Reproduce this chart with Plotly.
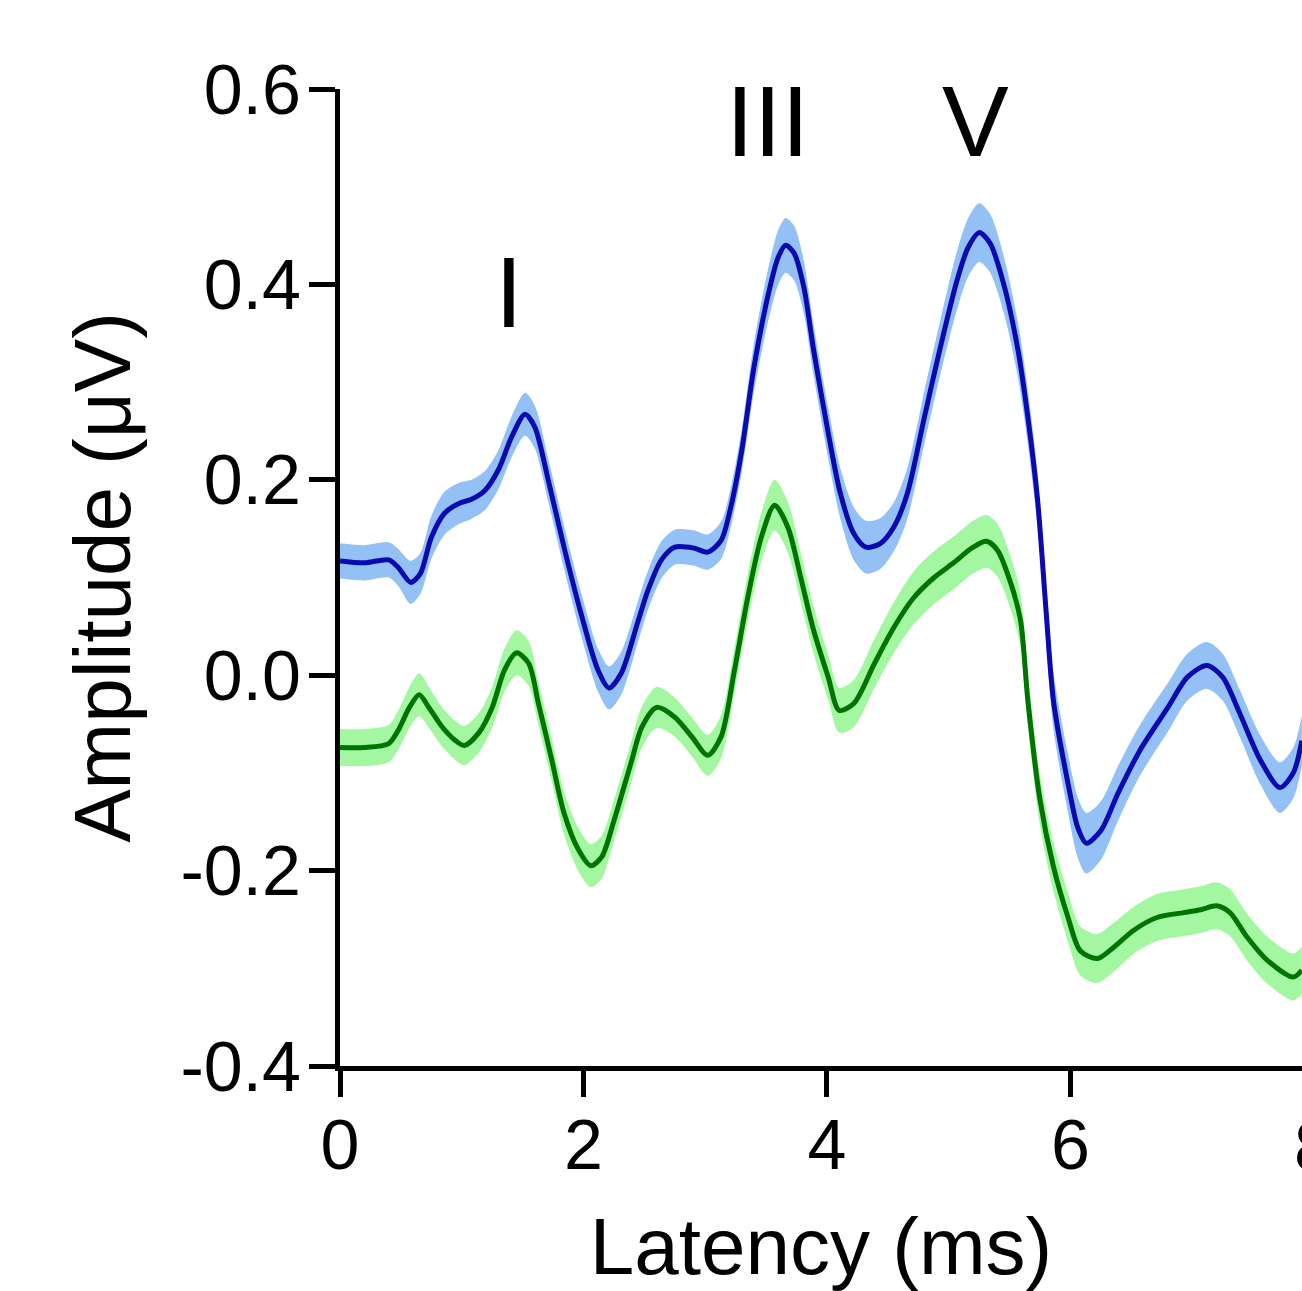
import plotly.graph_objects as go

# ---- data ----
blue_x = [0.0, 0.2, 0.4, 0.48, 0.58, 0.66, 0.75, 0.86, 0.98, 1.08, 1.19, 1.30, 1.41, 1.52, 1.60,
          1.71, 1.84, 1.98, 2.12, 2.21, 2.31, 2.45, 2.53, 2.64, 2.75, 2.91, 3.02, 3.13, 3.21, 3.30,
          3.40, 3.52, 3.60, 3.66, 3.73, 3.81, 3.89, 4.01, 4.11, 4.22, 4.32, 4.44, 4.55, 4.66, 4.80,
          4.93, 5.07, 5.16, 5.25, 5.34, 5.45, 5.57, 5.65, 5.73, 5.80, 5.86, 5.98, 6.06, 6.13, 6.25,
          6.39, 6.57, 6.80, 6.96, 7.12, 7.25, 7.39, 7.56, 7.72, 7.83, 7.90]
blue_y = [0.117, 0.115, 0.118, 0.110, 0.095, 0.104, 0.141, 0.166, 0.176, 0.180, 0.189, 0.210, 0.244, 0.267, 0.254,
          0.200, 0.131, 0.063, 0.005, -0.013, 0.002, 0.056, 0.087, 0.118, 0.131, 0.130, 0.126, 0.138, 0.172, 0.230,
          0.315, 0.391, 0.428, 0.440, 0.432, 0.397, 0.333, 0.248, 0.186, 0.145, 0.131, 0.135, 0.152, 0.186, 0.264,
          0.335, 0.405, 0.438, 0.453, 0.442, 0.401, 0.332, 0.264, 0.179, 0.065, -0.026, -0.111, -0.156, -0.172, -0.159,
          -0.121, -0.077, -0.033, -0.002, 0.010, -0.002, -0.039, -0.087, -0.115, -0.100, -0.067]
blue_se = [0.018, 0.018, 0.018, 0.019, 0.022, 0.021, 0.022, 0.022, 0.021, 0.020, 0.020, 0.020, 0.021, 0.022, 0.022,
           0.022, 0.022, 0.022, 0.022, 0.022, 0.022, 0.021, 0.020, 0.019, 0.018, 0.018, 0.018, 0.019, 0.020, 0.022,
           0.025, 0.027, 0.028, 0.028, 0.028, 0.027, 0.026, 0.026, 0.026, 0.027, 0.027, 0.026, 0.025, 0.026, 0.027,
           0.028, 0.030, 0.030, 0.030, 0.030, 0.029, 0.028, 0.028, 0.028, 0.028, 0.029, 0.030, 0.031, 0.031, 0.030,
           0.028, 0.026, 0.025, 0.024, 0.024, 0.024, 0.024, 0.025, 0.026, 0.026, 0.026]

green_x = [0.0, 0.2, 0.4, 0.48, 0.57, 0.65, 0.73, 0.84, 0.94, 1.02, 1.14, 1.25, 1.35, 1.45, 1.55,
           1.63, 1.74, 1.84, 1.96, 2.06, 2.15, 2.25, 2.39, 2.48, 2.60, 2.75, 2.89, 3.02, 3.13, 3.24,
           3.35, 3.46, 3.57, 3.68, 3.79, 3.89, 4.01, 4.10, 4.22, 4.39, 4.55, 4.71, 4.88, 5.04, 5.20,
           5.31, 5.40, 5.51, 5.59, 5.65, 5.75, 5.86, 5.98, 6.08, 6.22, 6.35, 6.52, 6.71, 6.93, 7.07,
           7.20, 7.31, 7.45, 7.61, 7.83, 7.90]
green_y = [-0.074, -0.074, -0.070, -0.056, -0.033, -0.020, -0.033, -0.053, -0.066, -0.072, -0.059, -0.033, 0.005, 0.023, 0.012,
           -0.029, -0.087, -0.141, -0.179, -0.195, -0.186, -0.149, -0.090, -0.053, -0.033, -0.043, -0.063, -0.082, -0.063, 0.005,
           0.080, 0.141, 0.174, 0.151, 0.097, 0.046, -0.002, -0.036, -0.029, 0.012, 0.049, 0.079, 0.100, 0.115, 0.131,
           0.137, 0.128, 0.094, 0.056, -0.026, -0.128, -0.196, -0.248, -0.282, -0.290, -0.279, -0.261, -0.248, -0.243, -0.240,
           -0.236, -0.243, -0.268, -0.291, -0.309, -0.302]
green_se = [0.019, 0.019, 0.019, 0.020, 0.021, 0.022, 0.021, 0.020, 0.020, 0.020, 0.020, 0.021, 0.022, 0.023, 0.023,
            0.022, 0.022, 0.022, 0.022, 0.022, 0.022, 0.021, 0.021, 0.021, 0.021, 0.020, 0.020, 0.021, 0.022, 0.023,
            0.024, 0.025, 0.026, 0.026, 0.025, 0.024, 0.023, 0.023, 0.024, 0.025, 0.026, 0.027, 0.027, 0.027, 0.027,
            0.027, 0.027, 0.027, 0.027, 0.027, 0.026, 0.025, 0.025, 0.025, 0.025, 0.025, 0.024, 0.024, 0.024, 0.024,
            0.024, 0.024, 0.024, 0.024, 0.024, 0.024]

x_ticks = [0, 2, 4, 6]
y_ticks = [0.6, 0.4, 0.2, 0.0, -0.2, -0.4]
y_tick_text = ["0.6", "0.4", "0.2", "0.0", "-0.2", "-0.4"]

wave_labels = ["I", "III", "V"]
wave_label_x = [1.39, 3.51, 5.22]
wave_label_y = [0.392, 0.567, 0.567]

BLUE_LINE = "#0a0ab0"
BLUE_BAND = "#93c1f6"
GREEN_LINE = "#007400"
GREEN_BAND = "#a3f7a0"
FONT = "Liberation Sans, Arial, sans-serif"

fig = go.Figure()


def add_band(x, y, se, band_color, line_color):
    upper = [v + s for v, s in zip(y, se)]
    lower = [v - s for v, s in zip(y, se)]
    fig.add_trace(go.Scatter(x=x, y=upper, mode="lines", line=dict(width=0, shape="spline", smoothing=0.8),
                             hoverinfo="skip", showlegend=False))
    fig.add_trace(go.Scatter(x=x, y=lower, mode="lines", line=dict(width=0, shape="spline", smoothing=0.8),
                             fill="tonexty", fillcolor=band_color, hoverinfo="skip", showlegend=False))
    fig.add_trace(go.Scatter(x=x, y=y, mode="lines",
                             line=dict(color=line_color, width=5, shape="spline", smoothing=0.8),
                             showlegend=False))


add_band(blue_x, blue_y, blue_se, BLUE_BAND, BLUE_LINE)
add_band(green_x, green_y, green_se, GREEN_BAND, GREEN_LINE)

for t, xv, yv in zip(wave_labels, wave_label_x, wave_label_y):
    fig.add_annotation(x=xv, y=yv, xref="x", yref="y", text=t, showarrow=False,
                       font=dict(family=FONT, size=100, color="black"), xanchor="center", yanchor="middle")

# partially visible "8" tick label at the cropped right edge
X_MAX = 7.9016
fig.add_annotation(x=8 / X_MAX, y=-0.4, xref="paper", yref="y", text="8", showarrow=False,
                   font=dict(family=FONT, size=70, color="black"), xanchor="center", yanchor="top", yshift=-40)

fig.update_layout(
    width=1302, height=1291,
    margin=dict(l=340, r=0, t=89, b=225),
    paper_bgcolor="white", plot_bgcolor="white",
    font=dict(family=FONT, color="black"),
    xaxis=dict(range=[0, X_MAX], tickvals=x_ticks, ticks="outside", ticklen=26, tickwidth=5,
               tickcolor="black", showline=True, linewidth=5, linecolor="black", showgrid=False,
               zeroline=False, tickfont=dict(size=70, family=FONT), ticklabelstandoff=-12,
               title=dict(text="Latency (ms)", font=dict(size=80, family=FONT), standoff=42)),
    yaxis=dict(range=[-0.4, 0.6], tickvals=y_ticks, ticktext=y_tick_text, ticks="outside", ticklen=26,
               tickwidth=5, tickcolor="black", showline=True, linewidth=5, linecolor="black",
               showgrid=False, zeroline=False, tickfont=dict(size=70, family=FONT), ticklabelstandoff=-6,
               title=dict(text="Amplitude (μV)", font=dict(size=80, family=FONT), standoff=25)),
)

fig.write_html("out.html")
